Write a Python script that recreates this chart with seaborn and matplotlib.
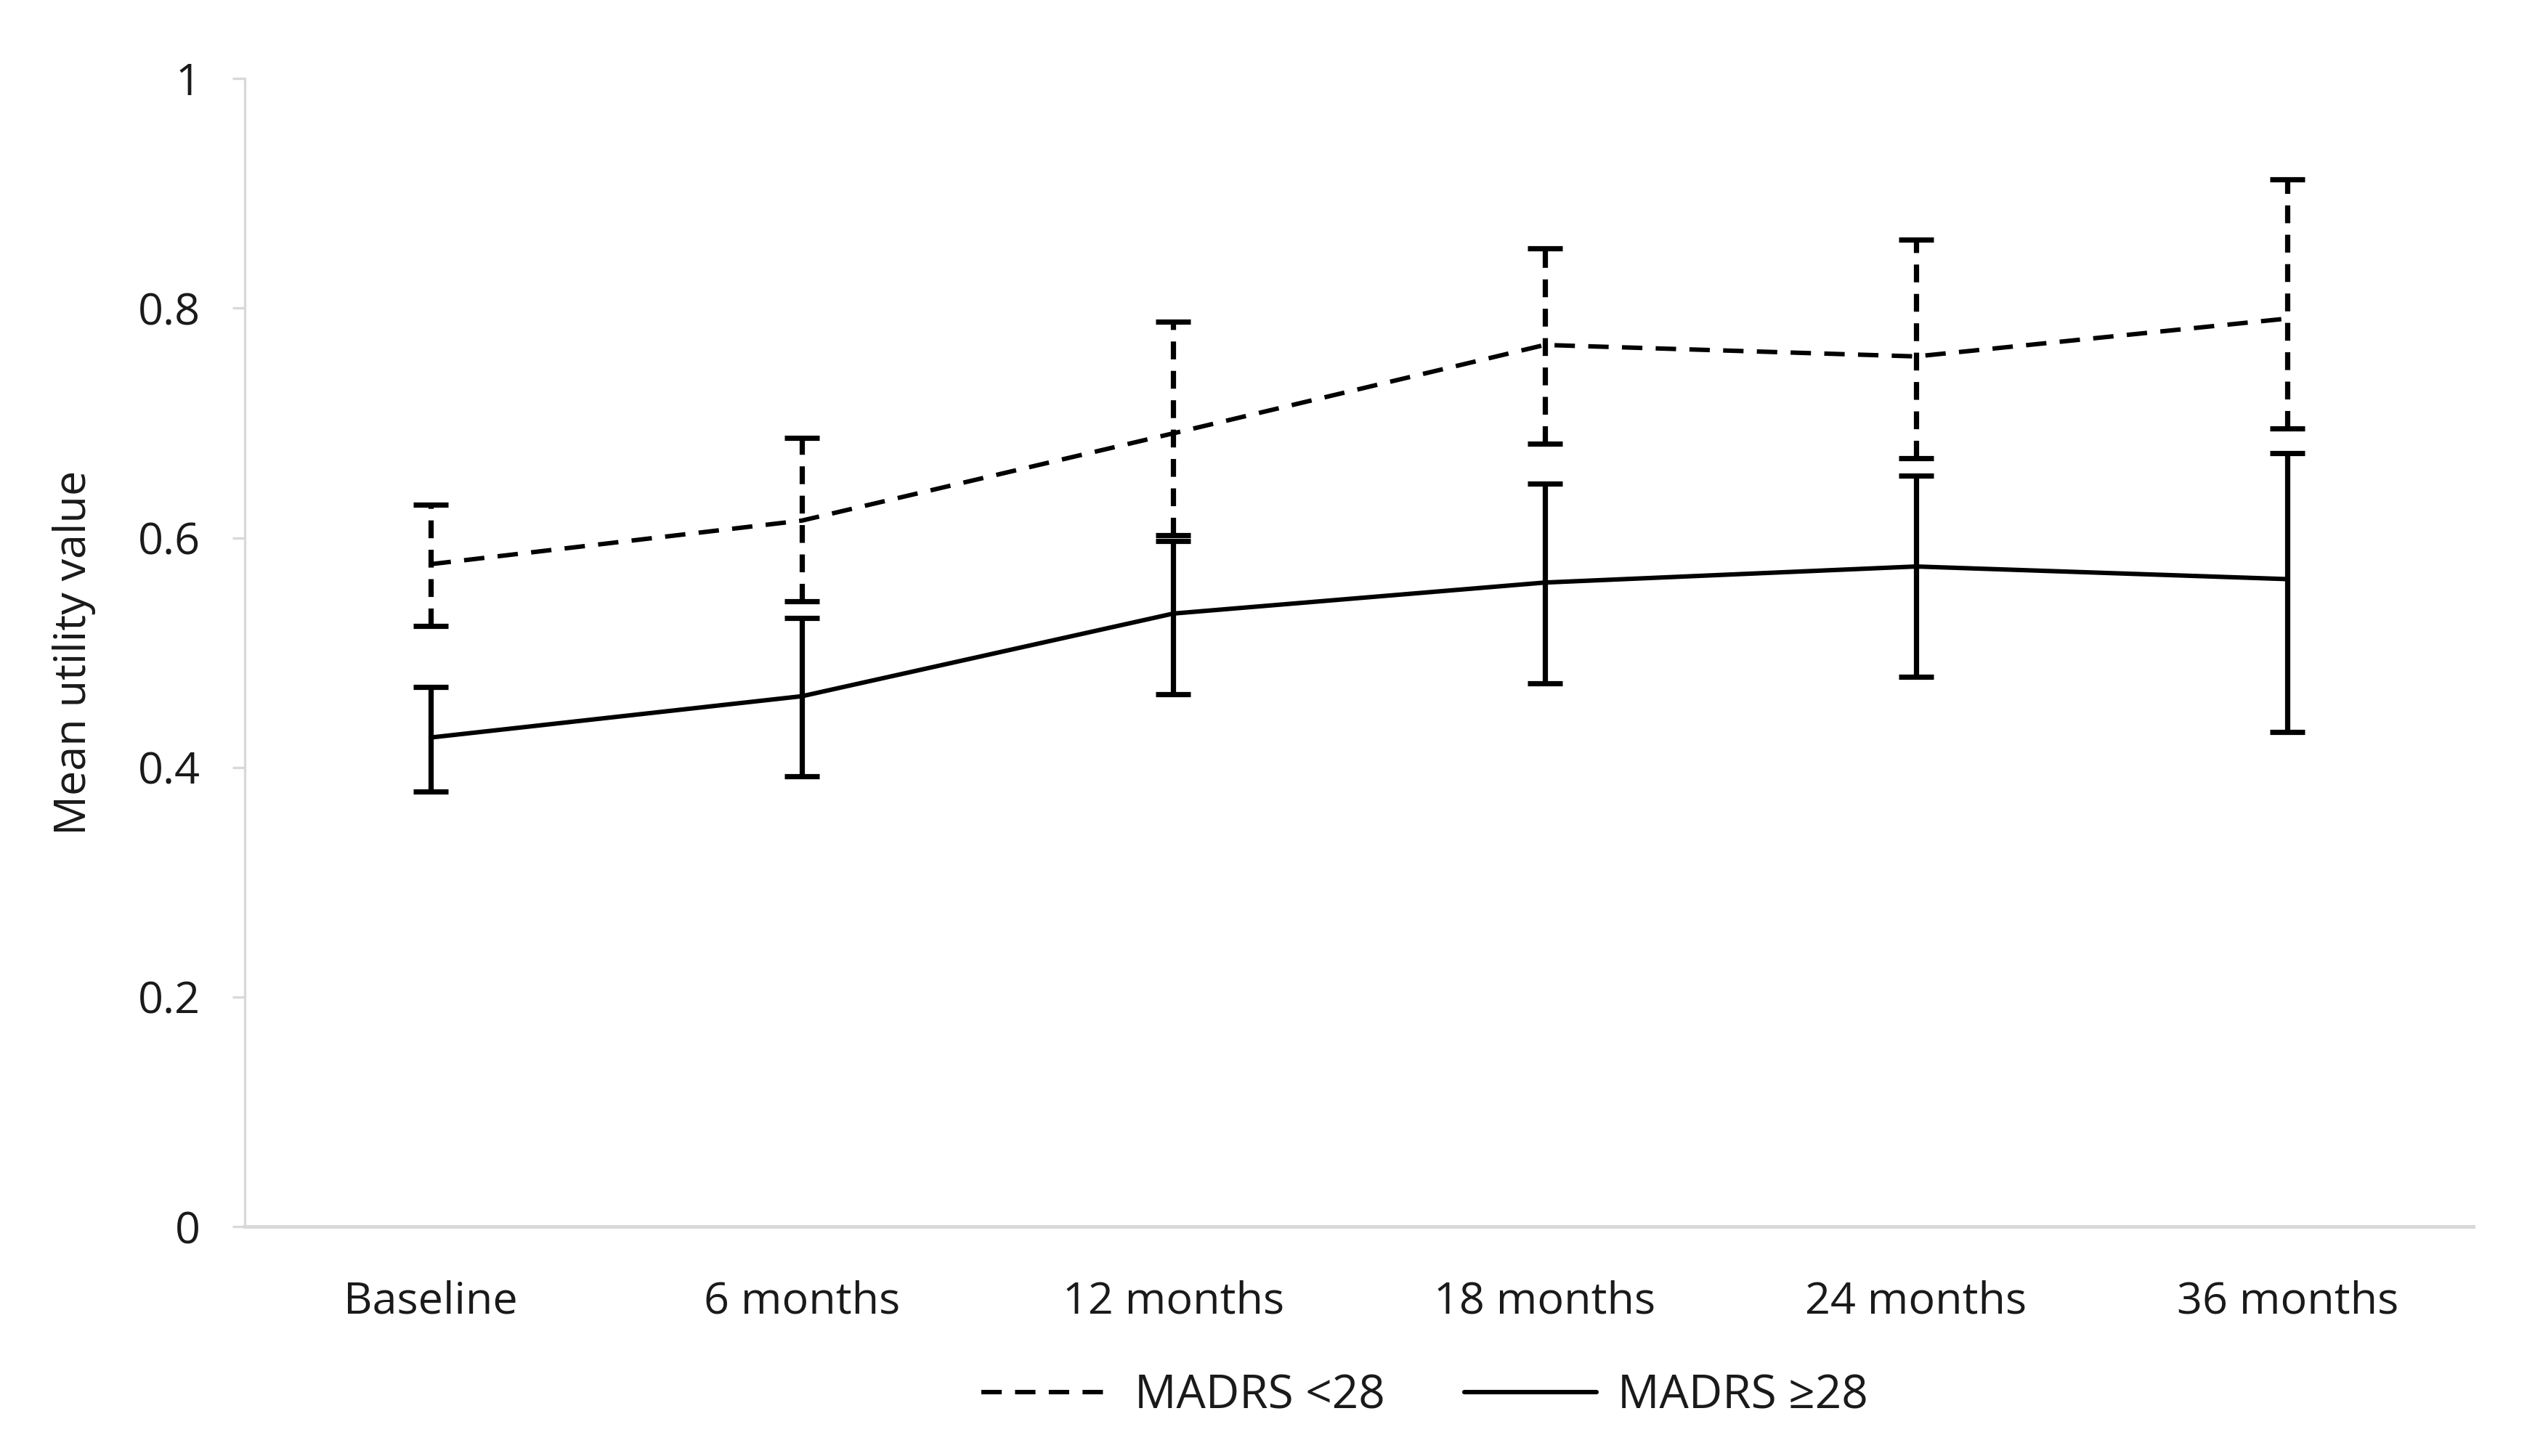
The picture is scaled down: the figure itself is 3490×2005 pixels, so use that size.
import numpy as np
import pandas as pd
import matplotlib
matplotlib.use("Agg")
import matplotlib.pyplot as plt
import seaborn as sns

# values
timepoints = ["Baseline", "6 months", "12 months", "18 months", "24 months", "36 months"]
groups = ["MADRS <28", "MADRS \u226528"]

low_mean = [0.577, 0.615, 0.691, 0.768, 0.758, 0.791]
low_upper = [0.629, 0.687, 0.788, 0.852, 0.860, 0.912]
low_lower = [0.523, 0.545, 0.602, 0.682, 0.669, 0.695]

high_mean = [0.426, 0.462, 0.534, 0.561, 0.575, 0.564]
high_upper = [0.470, 0.530, 0.597, 0.647, 0.654, 0.674]
high_lower = [0.379, 0.392, 0.464, 0.473, 0.479, 0.431]

yticks = [0, 0.2, 0.4, 0.6, 0.8, 1]
ytick_labels = ["0", "0.2", "0.4", "0.6", "0.8", "1"]

sns.set_style("white")
plt.rcParams['font.family'] = ['Open Sans', 'DejaVu Sans']
text_col = "#1a1a1a"
axis_col = "#d9d9d9"
fs = 22

df = pd.DataFrame({
    "time": timepoints * 2,
    "utility": low_mean + high_mean,
    "group": [groups[0]] * len(timepoints) + [groups[1]] * len(timepoints),
})

fig = plt.figure(figsize=(17.45, 10.025), dpi=200)
ax = fig.add_axes([0.0966, 0.1576, 0.879, 0.7884])

sns.lineplot(data=df, x="time", y="utility", hue="group", style="group",
             palette={groups[0]: "black", groups[1]: "black"},
             dashes={groups[0]: (4.6, 3.0), groups[1]: ""},
             linewidth=2.2, sort=False, ax=ax)

pos = np.arange(len(timepoints))
series = [
    (low_mean, low_lower, low_upper, (0, (3.4, 2.2))),
    (high_mean, high_lower, high_upper, "solid"),
]
for mean, lower, upper, ls in series:
    m = np.array(mean)
    err = [m - np.array(lower), np.array(upper) - m]
    eb = ax.errorbar(pos, m, yerr=err, fmt="none", ecolor="black",
                     elinewidth=2.6, capsize=8.5, capthick=2.6, zorder=3)
    eb.lines[2][0].set_linestyle(ls)

ax.set_xlim(-0.5, len(timepoints) - 0.5)
ax.set_ylim(0, 1)
ax.set_yticks(yticks)
ax.set_yticklabels(ytick_labels)
ax.set_xticks(pos)
ax.set_xticklabels(timepoints)

ax.set_xlabel("")
ax.set_ylabel("Mean utility value", fontsize=fs, color=text_col, labelpad=21)

for s in ["top", "right"]:
    ax.spines[s].set_visible(False)
ax.spines["left"].set_color(axis_col)
ax.spines["left"].set_linewidth(1.2)
ax.spines["bottom"].set_color(axis_col)
ax.spines["bottom"].set_linewidth(1.8)

ax.tick_params(axis="y", length=6, width=1.2, color=axis_col, pad=16,
               labelsize=fs, labelcolor=text_col, left=True)
ax.tick_params(axis="x", length=0, pad=26.5, labelsize=fs, labelcolor=text_col)

handles, labels = ax.get_legend_handles_labels()
if ax.get_legend() is not None:
    ax.get_legend().remove()
leg = fig.legend(handles, labels, loc="center", bbox_to_anchor=(0.562, 0.041),
                 ncol=2, frameon=False, fontsize=23, handlelength=2.85,
                 handletextpad=0.46, columnspacing=1.7)
for t in leg.get_texts():
    t.set_color(text_col)

fig.savefig("out.png", dpi=200, facecolor="white")
